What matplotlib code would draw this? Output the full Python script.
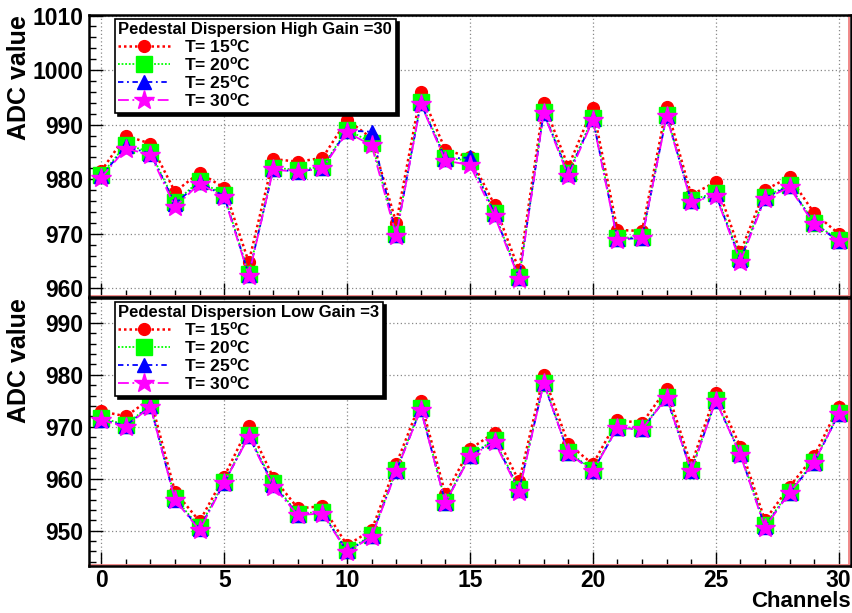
import numpy as np
import matplotlib.pyplot as plt
from matplotlib.ticker import MultipleLocator

plt.rcParams['font.family'] = ['Liberation Sans', 'DejaVu Sans']
plt.rcParams['font.weight'] = 'bold'
plt.rcParams['mathtext.fontset'] = 'custom'
plt.rcParams['mathtext.rm'] = 'Liberation Sans:bold'
plt.rcParams['mathtext.it'] = 'Liberation Sans:bold'
plt.rcParams['mathtext.bf'] = 'Liberation Sans:bold'

channels = np.arange(31)
temps = [15, 20, 25, 30]

# high gain pedestals (ADC), one list per temperature
high_15 = [981.5, 988.0, 986.5, 977.7, 981.2, 978.4, 964.8, 983.7, 983.2, 983.9,
           990.9, 987.5, 972.0, 995.9, 985.4, 984.0, 975.3, 963.3, 993.9, 982.3,
           993.1, 970.7, 970.5, 993.3, 977.1, 979.5, 966.6, 978.0, 980.4, 973.8, 970.0]
high_20 = [980.8, 986.3, 985.0, 975.8, 979.7, 977.1, 962.7, 982.1, 981.7, 982.3,
           989.1, 986.7, 970.0, 994.2, 983.9, 983.4, 973.8, 962.0, 992.4, 981.2,
           991.3, 969.2, 969.4, 991.8, 976.2, 977.5, 965.5, 976.8, 978.9, 972.0, 968.8]
high_25 = [980.5, 986.0, 984.7, 975.5, 979.4, 976.9, 962.5, 981.8, 981.4, 982.0,
           988.9, 988.7, 969.8, 993.9, 983.7, 984.0, 973.6, 961.9, 992.2, 980.9,
           991.0, 969.0, 969.2, 991.6, 976.0, 977.2, 965.2, 976.6, 978.7, 971.9, 968.6]
high_30 = [980.3, 985.6, 984.5, 974.9, 979.2, 976.7, 962.3, 981.8, 981.3, 982.0,
           988.6, 986.2, 969.6, 993.8, 983.4, 982.6, 973.3, 961.7, 992.1, 980.5,
           990.8, 968.8, 969.2, 991.5, 975.8, 977.0, 964.9, 976.4, 978.5, 971.7, 968.7]

# low gain pedestals
low_15 = [973.0, 972.0, 975.4, 957.5, 951.8, 960.4, 970.1, 960.2, 954.3, 954.7,
          947.2, 950.1, 962.8, 974.9, 957.0, 965.7, 968.9, 959.5, 979.9, 966.7,
          962.8, 971.3, 970.7, 977.3, 962.6, 976.5, 966.2, 952.0, 958.5, 964.3, 973.9]
low_20 = [971.7, 970.4, 974.2, 956.2, 950.7, 959.4, 968.4, 959.1, 953.3, 953.6,
          946.2, 949.1, 961.7, 973.6, 955.6, 964.6, 967.5, 958.1, 978.5, 965.2,
          961.7, 970.0, 969.7, 975.8, 961.7, 975.2, 964.9, 951.1, 957.5, 963.3, 972.6]
low_25 = [971.4, 970.2, 974.0, 955.9, 950.4, 959.2, 968.2, 958.8, 953.1, 953.4,
          946.0, 948.9, 961.5, 973.4, 955.4, 964.4, 967.3, 957.8, 978.4, 965.0,
          961.5, 969.8, 969.5, 975.6, 961.5, 975.0, 964.7, 950.8, 957.3, 963.1, 972.4]
low_30 = [971.3, 970.0, 973.9, 955.9, 950.1, 959.2, 968.1, 958.5, 953.0, 953.3,
          945.9, 948.8, 961.4, 973.3, 955.3, 964.3, 967.1, 957.5, 978.4, 964.9,
          961.4, 969.8, 969.5, 975.6, 961.4, 975.0, 964.6, 950.6, 957.3, 963.1, 972.4]

styles = [
    dict(color='red', marker='o', ms=8.5, ls=(0, (1, 1.2)), lw=1.8),
    dict(color='#00ff00', marker='s', ms=11, ls=(0, (1, 1)), lw=1.3),
    dict(color='blue', marker='^', ms=10.5, ls=(0, (3, 2, 1, 2)), lw=1.3),
    dict(color='magenta', marker='*', ms=15, ls=(0, (6, 2, 1, 2)), lw=1.3),
]


def draw_panel(ax, series, title, ylim, yticks):
    for t, vals, st in zip(temps, series, styles):
        ax.plot(channels, vals, label=r'T= %d$^{\rm o}$C' % t, mec=st['color'], **st)
    ax.set_xlim(-0.5, 30.5)
    ax.set_ylim(*ylim)
    ax.set_yticks(yticks)
    ax.xaxis.set_major_locator(MultipleLocator(5))
    ax.xaxis.set_minor_locator(MultipleLocator(1))
    ax.yaxis.set_minor_locator(MultipleLocator(2))
    ax.tick_params(which='both', direction='in', top=False, right=False)
    ax.tick_params(which='major', length=10, width=1, labelsize=16.5, pad=4)
    ax.tick_params(axis='x', which='major', pad=2)
    ax.tick_params(which='minor', length=5, width=1)
    ax.grid(True, which='major', ls=(0, (1, 2)), color='#888888', lw=0.9)
    for s in ax.spines.values():
        s.set_linewidth(1.8)
    # pink inner frame lines (bottom and right)
    ax.plot([0, 1], [0.004, 0.004], transform=ax.transAxes, color='#f08080', lw=1.3, clip_on=False)
    ax.plot([0.998, 0.998], [0, 1], transform=ax.transAxes, color='#f08080', lw=1.3, clip_on=False)
    ax.set_ylabel('ADC value', fontsize=18, fontweight='bold', loc='top')
    ax.yaxis.set_label_coords(-0.076, 1.0)
    leg = ax.legend(title=title, loc='upper left', bbox_to_anchor=(0.034, 0.986),
                    borderaxespad=0, fontsize=12.5, title_fontproperties={'weight': 'bold', 'size': 12},
                    alignment='left', handlelength=3.0, handletextpad=0.8, labelspacing=0.0,
                    borderpad=0.2, numpoints=1, fancybox=False, edgecolor='black', framealpha=1,
                    shadow={'color': 'black', 'alpha': 1, 'ox': 2.5, 'oy': -2.5})
    leg.get_frame().set_linewidth(1.2)
    return ax


fig = plt.figure(figsize=(8.53, 6.13), dpi=100)
ax1 = fig.add_axes([0.1043, 0.5155, 0.8933, 0.46])
ax2 = fig.add_axes([0.1043, 0.0767, 0.8933, 0.4372])

draw_panel(ax1, [high_15, high_20, high_25, high_30], 'Pedestal Dispersion High Gain =30',
           (958.4, 1010.1), [960, 970, 980, 990, 1000, 1010])
ax1.tick_params(axis='x', labelbottom=False)

draw_panel(ax2, [low_15, low_20, low_25, low_30], 'Pedestal Dispersion Low Gain =3',
           (943.2, 994.8), [950, 960, 970, 980, 990])
ax2.set_xlabel('Channels', fontsize=16, fontweight='bold', loc='right')
ax2.xaxis.set_label_coords(1.0, -0.094)

plt.savefig('out.png', dpi=100)
